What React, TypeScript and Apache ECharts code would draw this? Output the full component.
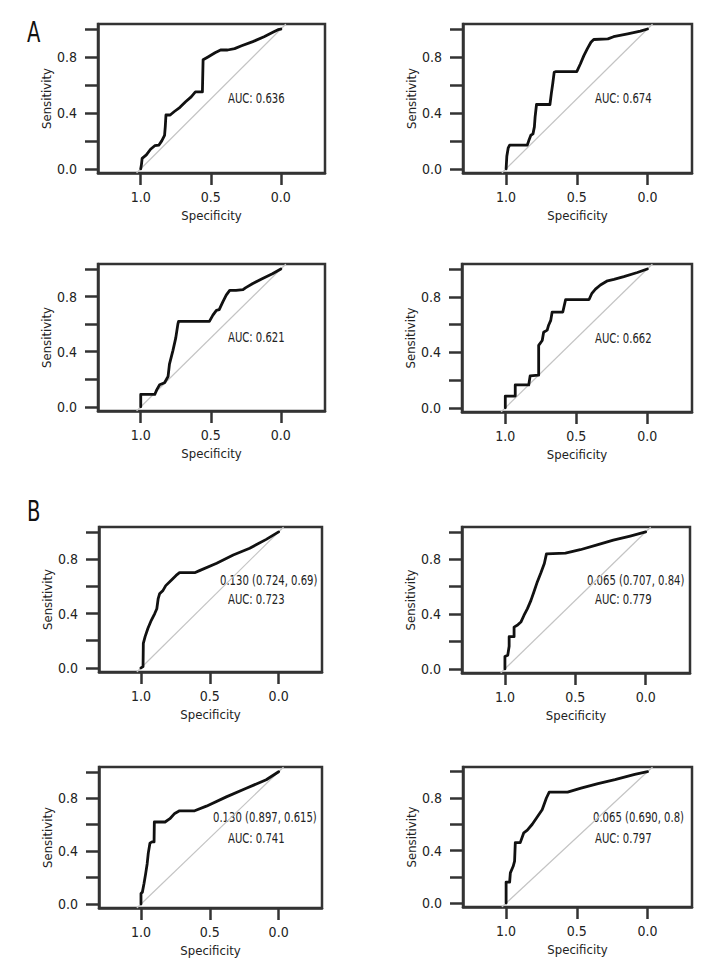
import React, { useEffect, useRef } from "react";
import * as echarts from "echarts";

// ROC curves: [specificity, sensitivity]
const rocA1: [number, number][] = [
  [1.0, 0], [0.995, 0.03], [0.99, 0.075], [0.96, 0.1], [0.93, 0.14], [0.9, 0.165], [0.87, 0.17],
  [0.85, 0.2], [0.83, 0.24], [0.825, 0.3], [0.82, 0.385], [0.79, 0.385], [0.76, 0.41], [0.72, 0.44],
  [0.68, 0.48], [0.64, 0.515], [0.61, 0.55], [0.56, 0.55], [0.555, 0.78], [0.52, 0.8], [0.47, 0.83],
  [0.43, 0.85], [0.38, 0.85], [0.33, 0.86], [0.28, 0.88], [0.2, 0.91], [0.12, 0.945], [0.05, 0.98],
  [0.02, 0.995], [0, 1],
];
const rocA2: [number, number][] = [
  [1, 0], [0.995, 0.09], [0.985, 0.15], [0.975, 0.17], [0.85, 0.17], [0.84, 0.2], [0.825, 0.24],
  [0.81, 0.25], [0.8, 0.3], [0.795, 0.37], [0.785, 0.46], [0.69, 0.46], [0.68, 0.54], [0.67, 0.61],
  [0.66, 0.69], [0.65, 0.695], [0.5, 0.695], [0.475, 0.75], [0.45, 0.81], [0.425, 0.86], [0.4, 0.905],
  [0.38, 0.925], [0.28, 0.93], [0.24, 0.945], [0.14, 0.965], [0.05, 0.985], [0, 1],
];
const rocA3: [number, number][] = [
  [1, 0], [1, 0.09], [0.9, 0.09], [0.885, 0.125], [0.865, 0.16], [0.83, 0.175], [0.805, 0.22],
  [0.795, 0.31], [0.77, 0.41], [0.75, 0.5], [0.735, 0.6], [0.73, 0.62], [0.51, 0.62], [0.485, 0.665],
  [0.46, 0.7], [0.44, 0.705], [0.415, 0.76], [0.39, 0.81], [0.365, 0.845], [0.32, 0.845], [0.27, 0.85],
  [0.25, 0.865], [0.2, 0.895], [0.13, 0.93], [0.06, 0.965], [0, 1],
];
const rocA4: [number, number][] = [
  [1, 0], [1, 0.085], [0.93, 0.085], [0.93, 0.165], [0.835, 0.165], [0.825, 0.23], [0.765, 0.235],
  [0.765, 0.45], [0.74, 0.485], [0.73, 0.545], [0.705, 0.56], [0.695, 0.595], [0.68, 0.63], [0.67, 0.69],
  [0.595, 0.69], [0.575, 0.78], [0.41, 0.78], [0.39, 0.825], [0.365, 0.855], [0.33, 0.885], [0.28, 0.915],
  [0.235, 0.925], [0.165, 0.945], [0.07, 0.975], [0, 1],
];
const rocB1: [number, number][] = [
  [1, 0], [0.985, 0.01], [0.983, 0.18], [0.97, 0.23], [0.95, 0.29], [0.925, 0.35], [0.9, 0.4],
  [0.885, 0.435], [0.875, 0.51], [0.865, 0.545], [0.84, 0.57], [0.82, 0.605], [0.78, 0.645],
  [0.745, 0.68], [0.72, 0.7], [0.61, 0.7], [0.575, 0.715], [0.45, 0.77], [0.33, 0.83], [0.21, 0.88],
  [0.09, 0.945], [0, 1],
];
const rocB2: [number, number][] = [
  [1, 0], [1, 0.09], [0.98, 0.1], [0.97, 0.165], [0.97, 0.235], [0.935, 0.235], [0.935, 0.305],
  [0.91, 0.32], [0.885, 0.345], [0.865, 0.39], [0.84, 0.44], [0.815, 0.5], [0.795, 0.56], [0.77, 0.635],
  [0.745, 0.7], [0.72, 0.77], [0.705, 0.84], [0.57, 0.845], [0.465, 0.87], [0.345, 0.905], [0.23, 0.94],
  [0.11, 0.97], [0, 1],
];
const rocB3: [number, number][] = [
  [1, 0], [1, 0.08], [0.99, 0.09], [0.978, 0.155], [0.966, 0.23], [0.955, 0.305], [0.947, 0.385],
  [0.935, 0.46], [0.92, 0.47], [0.905, 0.47], [0.903, 0.62], [0.825, 0.62], [0.79, 0.645], [0.755, 0.685],
  [0.72, 0.705], [0.61, 0.705], [0.525, 0.74], [0.38, 0.81], [0.235, 0.875], [0.09, 0.94], [0, 1],
];
const rocB4: [number, number][] = [
  [1, 0], [1, 0.16], [0.975, 0.16], [0.97, 0.23], [0.95, 0.28], [0.94, 0.32], [0.935, 0.46], [0.9, 0.46],
  [0.875, 0.535], [0.85, 0.555], [0.815, 0.6], [0.78, 0.655], [0.745, 0.71], [0.715, 0.8], [0.695, 0.845],
  [0.565, 0.845], [0.47, 0.875], [0.35, 0.91], [0.23, 0.94], [0.09, 0.98], [0, 1],
];

const curves = [rocA1, rocA2, rocA3, rocA4, rocB1, rocB2, rocB3, rocB4];

// annotation texts per panel
const aucTexts = ["AUC: 0.636", "AUC: 0.674", "AUC: 0.621", "AUC: 0.662", "AUC: 0.723", "AUC: 0.779", "AUC: 0.741", "AUC: 0.797"];
const cutoffTexts = ["", "", "", "", "0.130 (0.724, 0.69)", "0.065 (0.707, 0.84)", "0.130 (0.897, 0.615)", "0.065 (0.690, 0.8)"];

const xTicks = [0, 0.5, 1.0];
const yTicks = [0, 0.2, 0.4, 0.6, 0.8, 1.0];
const yLabels = [0, 0.4, 0.8];
const panelLetters = ["A", "B"];

// layout (pixels)
const boxes = [
  { left: 98, top: 24, width: 227, height: 149 },
  { left: 463, top: 24, width: 229, height: 149 },
  { left: 98, top: 264, width: 227, height: 147 },
  { left: 462, top: 264, width: 230, height: 148 },
  { left: 99, top: 527, width: 223, height: 145 },
  { left: 462, top: 527, width: 228, height: 146 },
  { left: 99, top: 767, width: 223, height: 141 },
  { left: 463, top: 767, width: 229, height: 140 },
];
const aucPos = [
  [228, 98], [595, 98], [228, 337], [595, 338], [228, 599], [595, 599], [228, 838], [595, 838],
];
const cutPos = [
  [0, 0], [0, 0], [0, 0], [0, 0], [220, 580], [587, 580], [213, 817], [593, 817],
];
const letterPos = [[27, 32], [27, 511]];

const X_MIN = -0.315;
const X_MAX = 1.305;
const Y_MIN = -0.03;
const Y_MAX = 1.036;

const FONT = "'Liberation Sans Narrow', 'DejaVu Sans Condensed', 'Noto Sans', sans-serif";
const DARK = "#333333";

export default function App() {
  const ref = useRef<HTMLDivElement>(null);
  useEffect(() => {
    if (!ref.current) return;
    const chart = echarts.init(ref.current, undefined, { renderer: "svg" });
    const grid: any[] = [];
    const xAxis: any[] = [];
    const yAxis: any[] = [];
    const series: any[] = [];
    const graphic: any[] = [];
    const textStyle = { fontFamily: FONT, fontSize: 13, color: "#222" };

    curves.forEach((data, i) => {
      const b = boxes[i];
      grid.push({
        left: b.left, top: b.top, width: b.width, height: b.height,
        show: true, borderColor: DARK, borderWidth: 2.5, backgroundColor: "transparent",
        containLabel: false,
      });
      xAxis.push({
        gridIndex: i, type: "value", inverse: true, min: X_MIN, max: X_MAX, position: "bottom",
        axisLine: { show: true, onZero: false, lineStyle: { color: DARK, width: 2.5 } },
        splitLine: { show: false },
        axisTick: { show: true, inside: false, length: 12, customValues: xTicks, lineStyle: { color: DARK, width: 2.5 } },
        axisLabel: { customValues: xTicks, formatter: (v: number) => Number(v).toFixed(1), margin: 17, ...textStyle, fontSize: 14 },
        name: "Specificity", nameLocation: "middle", nameGap: 36,
        nameTextStyle: { ...textStyle },
      });
      yAxis.push({
        gridIndex: i, type: "value", min: Y_MIN, max: Y_MAX, position: "left",
        axisLine: { show: true, onZero: false, lineStyle: { color: DARK, width: 2.5 } },
        splitLine: { show: false },
        axisTick: { show: true, inside: false, length: 13, customValues: yTicks, lineStyle: { color: DARK, width: 2.5 } },
        axisLabel: { customValues: yLabels, formatter: (v: number) => Number(v).toFixed(1), margin: 21, ...textStyle, fontSize: 14 },
        name: "Sensitivity", nameLocation: "middle", nameGap: 45,
        nameTextStyle: { ...textStyle },
      });
      // reference diagonal y = 1 - x across the whole box
      series.push({
        type: "line", xAxisIndex: i, yAxisIndex: i, showSymbol: false, silent: true,
        data: [[1 - Y_MIN, Y_MIN], [1 - Y_MAX, Y_MAX]],
        lineStyle: { color: "#c4c4c4", width: 1.2 }, z: 1,
      });
      series.push({
        type: "line", xAxisIndex: i, yAxisIndex: i, showSymbol: false, silent: true,
        data, lineStyle: { color: "#111111", width: 2.8, join: "round", cap: "round" }, z: 3,
      });
      graphic.push({
        type: "text", x: aucPos[i][0], y: aucPos[i][1], scaleX: 0.8,
        style: { text: aucTexts[i], fill: "#222", font: `14px ${FONT}`, verticalAlign: "middle", align: "left" },
      });
      if (cutoffTexts[i]) {
        graphic.push({
          type: "text", x: cutPos[i][0], y: cutPos[i][1], scaleX: 0.8,
          style: { text: cutoffTexts[i], fill: "#222", font: `14px ${FONT}`, verticalAlign: "middle", align: "left" },
        });
      }
    });
    panelLetters.forEach((l, k) => {
      graphic.push({
        type: "text", x: letterPos[k][0], y: letterPos[k][1], scaleX: 0.75,
        style: { text: l, fill: "#111", font: `29px ${FONT}`, verticalAlign: "middle", align: "left" },
      });
    });

    chart.setOption({
      animation: false,
      backgroundColor: "#ffffff",
      grid, xAxis, yAxis, series, graphic,
    });
    return () => chart.dispose();
  }, []);
  return <div ref={ref} style={{ position: "fixed", left: 0, top: 0, width: 720, height: 975 }} />;
}
